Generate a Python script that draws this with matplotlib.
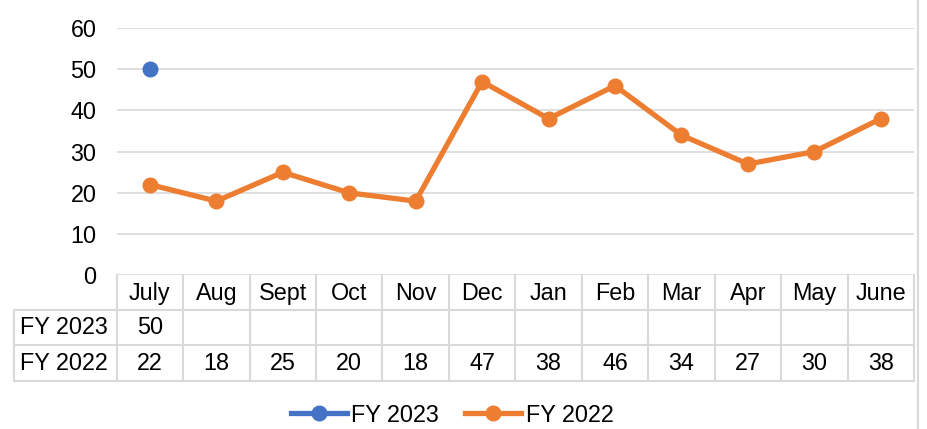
import numpy as np
import matplotlib
matplotlib.use("Agg")
import matplotlib.pyplot as plt
from matplotlib.lines import Line2D

plt.rcParams['font.family'] = ['Liberation Sans', 'DejaVu Sans']

meses = ["July", "Aug", "Sept", "Oct", "Nov", "Dec", "Jan", "Feb", "Mar", "Apr", "May", "June"]
fy2023 = [50, None, None, None, None, None, None, None, None, None, None, None]
fy2022 = [22, 18, 25, 20, 18, 47, 38, 46, 34, 27, 30, 38]
series = ["FY 2023", "FY 2022"]
colores = ["#4472C4", "#ED7D31"]

W, H = 927, 429
fig = plt.figure(figsize=(W / 100, H / 100), dpi=100)

# area del grafico en pixeles
x0, x1 = 116.7, 914.0
y_top, y_bot = 28.0, 275.3
ax = fig.add_axes([x0 / W, 1 - y_bot / H, (x1 - x0) / W, (y_bot - y_top) / H])

x = np.arange(len(meses))
v23 = np.array([np.nan if v is None else v for v in fy2023], dtype=float)
ax.plot(x, fy2022, color=colores[1], lw=3.8, marker="o", ms=10.5, zorder=3)
ax.plot(x, v23, color=colores[0], lw=3.8, marker="o", ms=10.5, zorder=4)

ax.set_xlim(-0.5, len(meses) - 0.5)
ax.set_ylim(0, 60)
ax.set_yticks(range(0, 61, 10))
ax.set_xticks([])
ax.tick_params(axis="y", length=0, pad=14.5, labelsize=16.8)
ax.yaxis.grid(True, color="#d9d9d9", lw=1.2)
ax.set_axisbelow(True)
for s in ax.spines.values():
    s.set_visible(False)

# tabla de datos
def ay(py):
    return -(py - y_bot) / (y_bot - y_top)

tr = ax.get_xaxis_transform()
gris = "#d9d9d9"
col_w = (x1 - x0) / len(meses)
x_lab = -0.5 - (x0 - 14) / col_w
filas = [275.3, 310, 345, 380.5]
fy = [ay(p) for p in filas]

for i in range(len(meses) + 1):
    ax.plot([i - 0.5, i - 0.5], [fy[0], fy[3]], color=gris, lw=1.5, transform=tr, clip_on=False)
ax.plot([x_lab, x_lab], [fy[1], fy[3]], color=gris, lw=1.5, transform=tr, clip_on=False)
for k in (1, 2, 3):
    ax.plot([x_lab, len(meses) - 0.5], [fy[k], fy[k]], color=gris, lw=1.5, transform=tr, clip_on=False)

fs = 16.8
for i, m in enumerate(meses):
    ax.text(i, ay(293.5), m, ha="center", va="center", fontsize=fs, transform=tr)
    if fy2023[i] is not None:
        ax.text(i, ay(328), str(fy2023[i]), ha="center", va="center", fontsize=fs, transform=tr)
    ax.text(i, ay(363), str(fy2022[i]), ha="center", va="center", fontsize=fs, transform=tr)
x_txt = -0.5 - (x0 - 20) / col_w
ax.text(x_txt, ay(328), series[0], ha="left", va="center", fontsize=fs, transform=tr)
ax.text(x_txt, ay(363), series[1], ha="left", va="center", fontsize=fs, transform=tr)

# borde derecho
fig.add_artist(Line2D([918 / W, 918 / W], [0, 1], color=gris, lw=1.5))

handles = [Line2D([], [], color=c, lw=3.8, marker="o", ms=10.5) for c in colores]
fig.legend(handles, series, loc="center", bbox_to_anchor=(452 / W, 1 - 415 / H),
           ncol=2, frameon=False, fontsize=fs, handlelength=2.4, handletextpad=0.2,
           columnspacing=1.1, borderpad=0)

fig.savefig("out.png", dpi=100)
